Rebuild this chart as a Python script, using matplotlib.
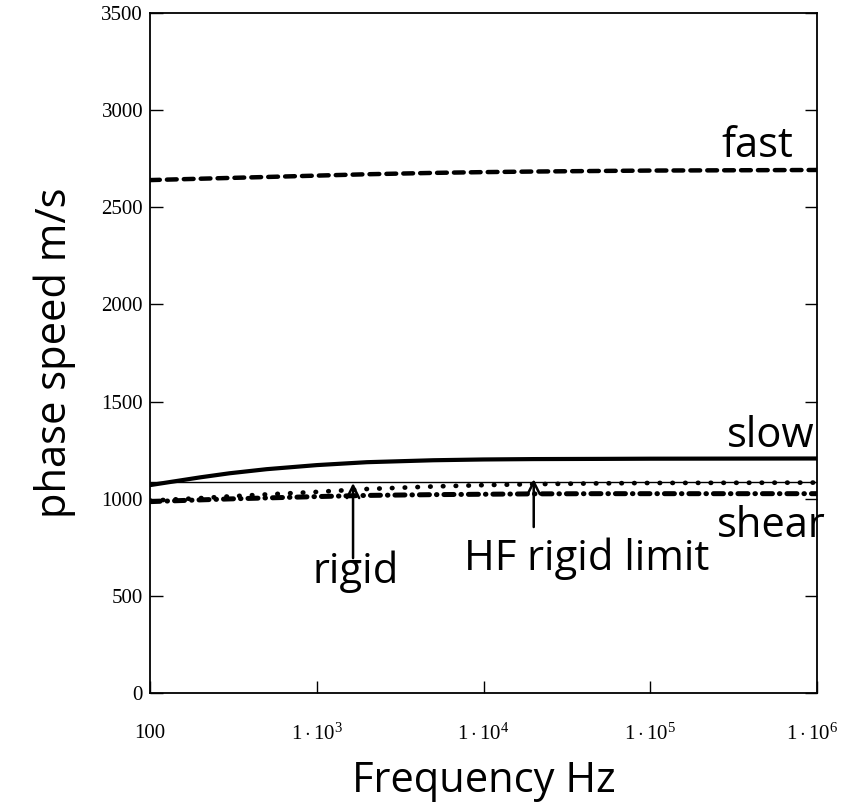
import numpy as np
import matplotlib
matplotlib.use('Agg')
import matplotlib.pyplot as plt
from matplotlib.transforms import ScaledTranslation

# data
freq = [100, 200, 300, 500, 1e3, 2e3, 5e3, 1e4, 2e4, 5e4, 1e5, 1e6]
fast = [2640, 2647, 2651, 2656, 2663, 2670, 2677, 2681, 2684, 2687, 2689, 2692]
slow = [1070, 1110, 1131, 1152, 1173, 1188, 1198, 1202, 1204, 1205, 1206, 1207]
rigid = [990, 1003, 1012, 1022, 1035, 1050, 1063, 1070, 1075, 1079, 1081, 1083]
shear = [985, 994, 999, 1004, 1011, 1017, 1021, 1023, 1025, 1026, 1026, 1026]
hf_limit = 1085

xticks = [100, 1e3, 1e4, 1e5, 1e6]
xtick_labels = ['100', r'$1\cdot10^{3}$', r'$1\cdot10^{4}$', r'$1\cdot10^{5}$', r'$1\cdot10^{6}$']
yticks = [0, 500, 1000, 1500, 2000, 2500, 3000, 3500]

plt.rcParams['mathtext.fontset'] = 'custom'
plt.rcParams['mathtext.rm'] = 'Liberation Serif'
plt.rcParams['mathtext.it'] = 'Liberation Serif:italic'

fig = plt.figure(figsize=(8.41, 8.02), dpi=100)
ax = fig.add_axes([0.1784, 0.1359, 0.7931, 0.8479])

ax.plot(freq, fast, color='black', lw=3.2, linestyle=(0, (2.2, 1.6)), dash_capstyle='round')
ax.plot(freq, slow, color='black', lw=3.0, linestyle='-')
ax.plot(freq, rigid, color='black', lw=3.4, linestyle=(0, (0.1, 2.6)), dash_capstyle='round')
ax.plot(freq, shear, color='black', lw=3.6, linestyle=(0, (2.0, 1.4, 0.1, 1.4)), dash_capstyle='round')
ax.axhline(hf_limit, color='black', lw=1.0)

ax.set_xscale('log')
ax.set_xlim(100, 1e6)
ax.set_ylim(0, 3500)
ax.set_xticks(xticks)
ax.set_xticklabels(xtick_labels)
ax.minorticks_off()
ax.set_yticks(yticks)
ax.set_yticklabels([str(v) for v in yticks])

ax.tick_params(axis='both', direction='in', length=9, width=1.0, labelsize=15,
               top=False, right=True)
ax.tick_params(axis='x', pad=22)
ax.tick_params(axis='y', pad=5)
for lab in ax.get_xticklabels() + ax.get_yticklabels():
    lab.set_fontfamily('Liberation Serif')
# last tick label sits at the figure edge, nudge it left a little
last = ax.get_xticklabels()[-1]
last.set_transform(last.get_transform() + ScaledTranslation(-5 / 100, 0, fig.dpi_scale_trans))
for sp in ax.spines.values():
    sp.set_linewidth(1.3)

ax.set_xlabel('Frequency Hz', fontsize=30, fontfamily='Open Sans', labelpad=11)
ax.set_ylabel('phase speed m/s', fontsize=30, fontfamily='Open Sans', labelpad=18)

tkw = dict(fontsize=30, fontfamily='Open Sans', color='black')
ax.text(0.965, 0.805, 'fast', transform=ax.transAxes, ha='right', va='center', **tkw)
ax.text(0.996, 0.378, 'slow', transform=ax.transAxes, ha='right', va='center', **tkw)
ax.text(1.013, 0.245, 'shear', transform=ax.transAxes, ha='right', va='center', **tkw)
ax.text(0.308, 0.178, 'rigid', transform=ax.transAxes, ha='center', va='center', **tkw)
ax.text(0.655, 0.198, 'HF rigid limit', transform=ax.transAxes, ha='center', va='center', **tkw)

arrow = dict(arrowstyle='->', color='black', lw=1.8, mutation_scale=22)
ax.annotate('', xy=(1.65e3, 1095), xytext=(1.65e3, 680), arrowprops=arrow)
ax.annotate('', xy=(2.0e4, 1115), xytext=(2.0e4, 840), arrowprops=arrow)

fig.savefig('out.png', dpi=100)
plt.close(fig)
